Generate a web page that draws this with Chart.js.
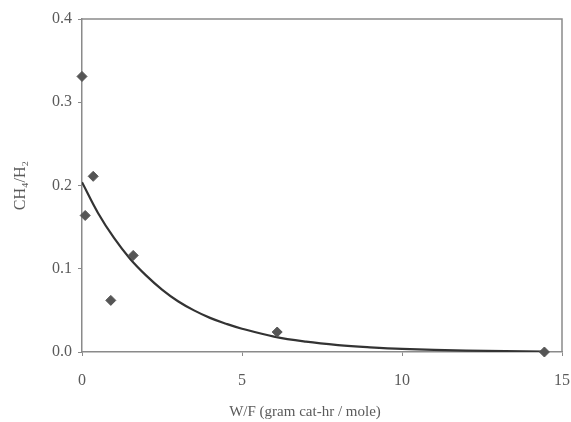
<!DOCTYPE html>
<html>
<head>
<meta charset="utf-8">
<script src="https://cdn.jsdelivr.net/npm/chart.js@4"></script>
<style>
  html, body { margin: 0; padding: 0; background: #ffffff; }
  #wrap { width: 571px; height: 422px; }
</style>
</head>
<body>
<div id="wrap"><canvas id="c" width="571" height="422"></canvas></div>
<script>
// Measured points (W/F, CH4/H2)
const pointX = [0, 0.1, 0.35, 0.9, 1.6, 6.1, 14.45];
const pointY = [0.331, 0.164, 0.211, 0.062, 0.116, 0.024, 0.0];

// Fitted trend curve
const curveX = [0, 0.5, 1, 1.5, 2, 2.5, 3, 3.5, 4, 4.5, 5, 6, 7, 8, 9, 10, 12, 14.45];
const curveY = [0.204, 0.167, 0.137, 0.112, 0.092, 0.075, 0.061, 0.050, 0.041, 0.034, 0.028, 0.0185, 0.0124, 0.0083, 0.0056, 0.0037, 0.0017, 0.0006];

const xTicks = [0, 5, 10, 15];
const yTicks = [0.0, 0.1, 0.2, 0.3, 0.4];

const xTitle = 'W/F (gram cat-hr / mole)';
const yTitle = 'CH\u2084/H\u2082';

const pts = pointX.map((x, i) => ({ x: x, y: pointY[i] }));
const curve = curveX.map((x, i) => ({ x: x, y: curveY[i] }));

const axisColor = '#8a8a8a';
const textColor = '#5a5a5a';
const serif = '"Liberation Serif", "Times New Roman", serif';

const boxPlugin = {
  id: 'box',
  afterDatasetsDraw(chart) {
    const { ctx, chartArea: a } = chart;
    ctx.save();
    ctx.strokeStyle = axisColor;
    ctx.lineWidth = 1.5;
    ctx.beginPath();
    ctx.moveTo(a.left, a.top);
    ctx.lineTo(a.right, a.top);
    ctx.lineTo(a.right, a.bottom);
    ctx.stroke();
    // x-axis title, set slightly left of centre as in the original
    ctx.fillStyle = textColor;
    ctx.font = '15px ' + serif;
    ctx.textAlign = 'center';
    ctx.textBaseline = 'middle';
    ctx.fillText(xTitle, (a.left + a.right) / 2 - 17, 412);
    ctx.restore();
  }
};

new Chart(document.getElementById('c'), {
  type: 'scatter',
  data: {
    datasets: [
      {
        label: 'fit',
        data: curve,
        showLine: true,
        borderColor: '#333333',
        borderWidth: 2.2,
        pointRadius: 0,
        tension: 0.4,
        borderJoinStyle: 'round',
        fill: false,
        order: 2
      },
      {
        label: 'data',
        data: pts,
        pointStyle: 'rectRot',
        pointRadius: 5,
        backgroundColor: '#555555',
        borderColor: '#555555',
        borderWidth: 1,
        showLine: false,
        order: 1,
        clip: false
      }
    ]
  },
  options: {
    responsive: false,
    animation: false,
    layout: { padding: { top: 19, right: 9, left: 0, bottom: 0 } },
    plugins: {
      legend: { display: false },
      tooltip: { enabled: false }
    },
    scales: {
      x: {
        type: 'linear',
        min: 0,
        max: 15,
        afterBuildTicks(scale) { scale.ticks = xTicks.map(v => ({ value: v })); },
        afterFit(scale) { scale.height = 70; scale.paddingLeft = 0; scale.paddingRight = 0; },
        grid: { display: true, drawOnChartArea: false, drawTicks: true, tickLength: 4, color: axisColor },
        border: { display: true, color: axisColor, width: 1.5 },
        ticks: {
          padding: 15,
          color: textColor,
          font: { family: serif, size: 16 },
          maxRotation: 0,
          callback: v => String(v)
        },
        title: { display: false }
      },
      y: {
        type: 'linear',
        min: 0,
        max: 0.4,
        afterBuildTicks(scale) { scale.ticks = yTicks.map(v => ({ value: v })); },
        afterFit(scale) { scale.width = 82; scale.paddingTop = 0; scale.paddingBottom = 0; },
        grid: { display: true, drawOnChartArea: false, drawTicks: true, tickLength: 4, color: axisColor },
        border: { display: true, color: axisColor, width: 1.5 },
        ticks: {
          padding: 6,
          color: textColor,
          font: { family: serif, size: 16 },
          callback: v => Number(v).toFixed(1)
        },
        title: {
          display: true,
          text: yTitle,
          color: textColor,
          font: { family: serif, size: 16 },
          padding: { top: 11, bottom: 0 }
        }
      }
    }
  },
  plugins: [boxPlugin]
});
</script>
</body>
</html>
